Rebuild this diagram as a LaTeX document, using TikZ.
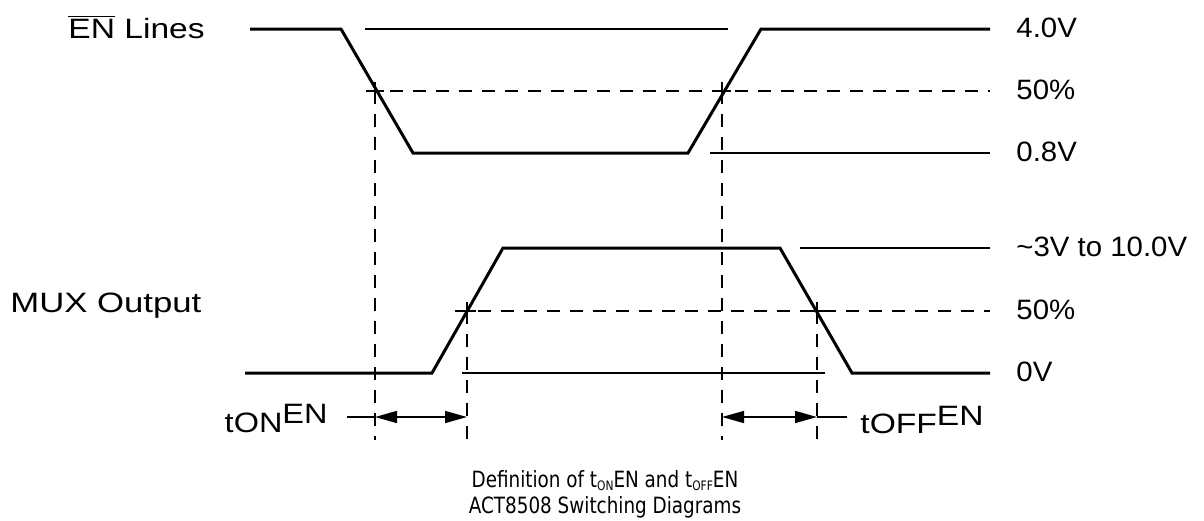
\documentclass[tikz,border=0pt]{standalone}
\usepackage{graphicx}
\usepackage{fontspec}
\setmainfont{Liberation Sans}
\newfontfamily\capfont[FakeStretch=0.82]{DejaVu Sans}
\usetikzlibrary{positioning,arrows.meta}
\tikzset{
  wave/.style={line width=1.5pt, line join=miter},
  level/.style={line width=0.75pt},
  guide/.style={line width=0.75pt, dash pattern=on 6.5pt off 5pt},
  lbl/.style={font=\fontsize{14}{16}\selectfont, inner sep=0pt},
  caption/.style={font=\capfont\fontsize{11.2}{13}\selectfont, inner sep=0pt},
  span/.style={line width=0.75pt, {Triangle[length=11pt,width=6pt]}-{Triangle[length=11pt,width=6pt]}},
}
\newcommand{\wide}[2][1.2]{\scalebox{#1}[1]{#2}}
\newcommand{\subon}[1]{\raisebox{-0.3ex}{\fontsize{6.5}{6.5}\selectfont #1}}

\begin{document}
\begin{tikzpicture}[x=0.5pt,y=-0.5pt]
\useasboundingbox (0,0) rectangle (1204,520);

% EN lines waveform
\coordinate (e0) at (250,29);
\coordinate (e1) at (341,29);
\coordinate (e2) at (413,153);
\coordinate (e3) at (688,153);
\coordinate (e4) at (761,29);
\coordinate (e5) at (990,29);
\draw[wave] (e0) -- (e1) -- (e2) -- (e3) -- (e4) -- (e5);

% MUX output waveform
\coordinate (m0) at (245,373);
\coordinate (m1) at (432,373);
\coordinate (m2) at (503,248);
\coordinate (m3) at (780,248);
\coordinate (m4) at (852,373);
\coordinate (m5) at (990,373);
\draw[wave] (m0) -- (m1) -- (m2) -- (m3) -- (m4) -- (m5);

% 50% points
\coordinate (c1) at (375,91);
\coordinate (c2) at (722,91);
\coordinate (c3) at (467,311);
\coordinate (c4) at (817,311);
\foreach \c in {c1,c2,c3,c4}{
  \draw[level] ([xshift=-4.5pt]\c) -- ([xshift=4.5pt]\c);
  \draw[level] ([yshift=-4.5pt]\c) -- ([yshift=4.5pt]\c);
}

% level lines
\draw[level] (365,29) -- (728,29);
\draw[level] (710,153) -- (990,153);
\draw[level] (800,248) -- (990,248);
\draw[level] (462,373) -- (825,373);
\draw[guide] (367,91) -- (990,91);
\draw[guide] (455,311) -- (990,311);

% timing guides
\foreach \c in {c1,c2,c3,c4}
  \draw[guide] (\c) -- (\c |- 0,440);

% delay arrows
\coordinate (a0) at (347,417);
\coordinate (a1) at (c1 |- a0);
\coordinate (a2) at (c3 |- a0);
\coordinate (b0) at (c2 |- a0);
\coordinate (b1) at (c4 |- a0);
\coordinate (b2) at (847,417);
\draw[level] (a0) -- (a1);
\draw[span] (a1) -- (a2);
\draw[span] (b0) -- (b1);
\draw[level] (b1) -- (b2);

% labels
\node[lbl, anchor=base west] (enlbl) at (68,38) {\wide{$\overline{\mbox{EN}}$ Lines}};
\node[lbl, anchor=base west] (muxlbl) at (10,312) {\wide[1.24]{MUX Output}};
\node[lbl, anchor=base west] (v4) at (1016,37) {\wide[1.05]{4.0V}};
\node[lbl, anchor=base west] (p1) at (1016,99) {\wide[1.05]{50\%}};
\node[lbl, anchor=base west] (v08) at (1016,161) {\wide[1.05]{0.8V}};
\node[lbl, anchor=base west] (vhi) at (1016,256) {\wide[1.05]{\textasciitilde3V to 10.0V}};
\node[lbl, anchor=base west] (p2) at (1016,319) {\wide[1.05]{50\%}};
\node[lbl, anchor=base west] (v0) at (1016,381) {\wide[1.05]{0V}};
\node[lbl, anchor=base east] (ton) at (328,432) {\wide[1.16]{tON\raisebox{4.5pt}{EN}}};
\node[lbl, anchor=base west] (toff) at (860,433) {\wide{tOFF\raisebox{4pt}{EN}}};

% caption
\node[caption, anchor=base] (cap1) at (605,487) {Definition of t\subon{ON}EN and t\subon{OFF}EN};
\node[caption, anchor=base] (cap2) at (605,513) {ACT8508 Switching Diagrams};
\end{tikzpicture}
\end{document}
